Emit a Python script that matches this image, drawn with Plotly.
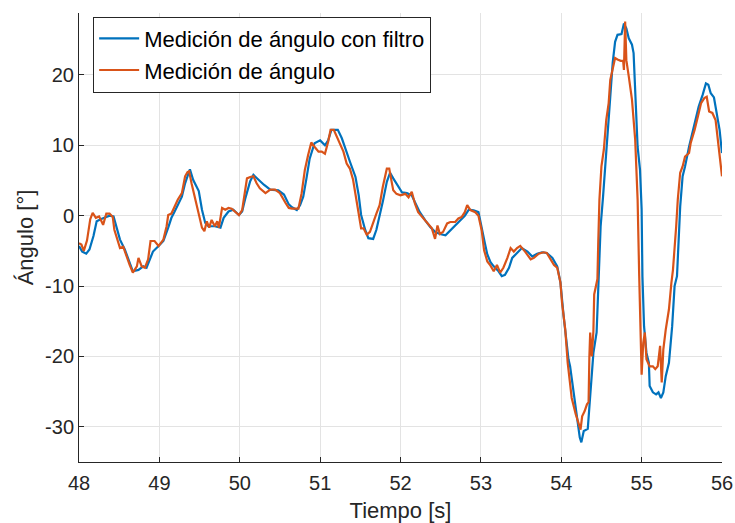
import plotly.graph_objects as go

# Raw measurement (orange)
t_raw = [48.00, 48.03, 48.06, 48.10, 48.14, 48.17, 48.21, 48.25, 48.30, 48.34, 48.38, 48.42, 48.44, 48.47,
         48.51, 48.55, 48.59, 48.63, 48.67, 48.72, 48.74, 48.78, 48.82, 48.86, 48.89, 48.94, 48.99, 49.05,
         49.09, 49.11, 49.15, 49.19, 49.23, 49.28, 49.32, 49.35, 49.37, 49.40, 49.45, 49.49, 49.53, 49.56,
         49.59, 49.62, 49.65, 49.69, 49.72, 49.74, 49.78, 49.82, 49.86, 49.90, 49.94, 49.99, 50.03, 50.06,
         50.09, 50.13, 50.17, 50.21, 50.25, 50.32, 50.38, 50.44, 50.50, 50.57, 50.61, 50.65, 50.69, 50.73,
         50.77, 50.81, 50.85, 50.89, 50.93, 50.98, 51.02, 51.06, 51.10, 51.13, 51.17, 51.20, 51.24, 51.29,
         51.33, 51.37, 51.41, 51.45, 51.49, 51.51, 51.54, 51.58, 51.62, 51.66, 51.70, 51.74, 51.78, 51.83,
         51.86, 51.89, 51.91, 51.95, 52.00, 52.06, 52.10, 52.14, 52.18, 52.22, 52.27, 52.33, 52.39, 52.43,
         52.46, 52.49, 52.53, 52.58, 52.62, 52.68, 52.72, 52.76, 52.80, 52.83, 52.87, 52.93, 52.97, 53.01,
         53.04, 53.08, 53.12, 53.16, 53.20, 53.24, 53.28, 53.33, 53.37, 53.41, 53.45, 53.49, 53.55, 53.62,
         53.66, 53.72, 53.78, 53.82, 53.87, 53.91, 53.95, 53.99, 54.01, 54.05, 54.08, 54.11, 54.13, 54.18,
         54.22, 54.24, 54.26, 54.29, 54.32, 54.34, 54.35, 54.36, 54.38, 54.40, 54.41, 54.44, 54.45, 54.46,
         54.475, 54.50, 54.53, 54.56, 54.59, 54.61, 54.64, 54.67, 54.70, 54.74, 54.77, 54.78, 54.795, 54.81,
         54.84, 54.88, 54.92, 54.95, 54.97, 54.995, 55.00, 55.02, 55.04, 55.06, 55.10, 55.14, 55.17, 55.20,
         55.23, 55.25, 55.27, 55.30, 55.34, 55.37, 55.39, 55.43, 55.45, 55.48, 55.51, 55.54, 55.59, 55.61,
         55.66, 55.70, 55.74, 55.78, 55.81, 55.84, 55.88, 55.92, 55.95, 55.98, 56.00]
y_raw = [-3.9, -4.1, -5.0, -3.5, -0.5, 0.4, -0.3, -0.1, -1.3, 0.3, 0.3, -0.2, -2.0, -3.2,
         -4.6, -4.4, -5.8, -7.0, -8.1, -7.2, -6.0, -7.2, -7.4, -6.2, -3.6, -3.6, -4.3, -3.4,
         -1.5, 0.1, 0.3, 1.3, 2.3, 3.2, 5.6, 6.2, 6.3, 4.6, 2.2, -0.1, -1.7, -2.2,
         -0.8, -1.7, -0.6, -1.5, -0.8, -1.7, 1.1, 0.85, 1.1, 1.0, 0.6, 0.1, 0.8, 3.2,
         5.3, 5.5, 5.6, 4.6, 3.9, 3.2, 3.7, 3.7, 3.2, 1.8, 1.1, 1.0, 1.0, 1.0,
         3.2, 6.5, 8.6, 10.4, 9.8, 9.1, 9.1, 8.8, 10.5, 12.2, 12.2, 11.4, 10.3, 9.1,
         7.4, 6.7, 5.1, 2.5, -0.4, -1.8, -1.8, -2.7, -2.3, -0.85, 0.3, 1.5, 4.1, 6.7,
         6.7, 4.8, 3.6, 3.1, 2.9, 3.1, 2.6, 3.4, 1.7, 0.5, -0.2, -0.9, -1.8, -3.3,
         -1.4, -2.6, -2.3, -1.1, -0.9, -0.9, -0.4, -0.2, 0.5, 1.5, 0.8, 0.5, 0.0, -2.1,
         -4.9, -6.5, -7.1, -7.9, -7.0, -8.1, -7.4, -6.0, -4.6, -5.1, -4.6, -4.3, -5.1, -6.2,
         -6.0, -5.4, -5.2, -5.3, -6.2, -7.0, -7.4, -9.5, -12.4, -16.2, -20.9, -24.2, -25.9, -28.2,
         -29.9, -30.4, -28.5, -27.8, -26.8, -26.5, -20.0, -16.6, -20.0, -16.4, -11.2, -9.3, -9.0, -4.0,
         2.3, 7.0, 9.4, 13.6, 16.0, 19.3, 20.9, 22.4, 22.2, 22.0, 22.0, 20.7, 27.6, 22.1,
         19.8, 16.5, 10.8, 2.3, -8.6, -18.1, -22.6, -18.1, -16.6, -20.4, -21.4, -21.4, -21.8, -21.4,
         -18.5, -23.7, -19.0, -16.2, -13.3, -9.6, -7.7, -1.5, 2.3, 6.1, 7.0, 8.4, 8.9, 10.3,
         12.2, 14.1, 16.0, 16.7, 16.9, 14.8, 14.6, 13.6, 10.3, 7.5, 5.6]

# Filtered measurement (blue)
t_filt = [48.00, 48.04, 48.09, 48.13, 48.18, 48.22, 48.27, 48.32, 48.38, 48.43, 48.47, 48.51, 48.57, 48.63,
          48.67, 48.74, 48.80, 48.84, 48.88, 48.92, 48.99, 49.05, 49.11, 49.15, 49.19, 49.23, 49.28, 49.32,
          49.35, 49.38, 49.42, 49.49, 49.53, 49.57, 49.61, 49.69, 49.76, 49.80, 49.86, 49.92, 49.99, 50.03,
          50.07, 50.13, 50.17, 50.23, 50.30, 50.38, 50.48, 50.55, 50.61, 50.65, 50.71, 50.75, 50.79, 50.83,
          50.87, 50.93, 51.00, 51.06, 51.10, 51.14, 51.22, 51.27, 51.31, 51.37, 51.44, 51.48, 51.51, 51.56,
          51.60, 51.66, 51.70, 51.74, 51.78, 51.83, 51.87, 51.91, 51.97, 52.02, 52.08, 52.14, 52.18, 52.24,
          52.31, 52.37, 52.43, 52.49, 52.56, 52.62, 52.68, 52.74, 52.80, 52.85, 52.91, 52.97, 53.01, 53.05,
          53.08, 53.12, 53.16, 53.22, 53.26, 53.30, 53.35, 53.39, 53.45, 53.51, 53.58, 53.64, 53.70, 53.76,
          53.82, 53.89, 53.95, 53.99, 54.03, 54.06, 54.09, 54.11, 54.16, 54.20, 54.23, 54.25, 54.28, 54.33,
          54.36, 54.40, 54.44, 54.46, 54.49, 54.52, 54.55, 54.58, 54.61, 54.64, 54.67, 54.70, 54.75, 54.78,
          54.81, 54.84, 54.88, 54.90, 54.92, 54.95, 54.98, 55.00, 55.01, 55.03, 55.06, 55.09, 55.10, 55.14,
          55.18, 55.21, 55.24, 55.27, 55.30, 55.34, 55.38, 55.41, 55.44, 55.46, 55.48, 55.51, 55.54, 55.59,
          55.63, 55.67, 55.71, 55.76, 55.80, 55.83, 55.86, 55.90, 55.93, 55.97, 56.00]
y_filt = [-4.3, -5.1, -5.4, -4.8, -2.9, -0.8, -0.5, -0.3, 0.0, -0.1, -1.7, -3.4, -4.8, -6.5,
          -7.9, -7.7, -7.2, -7.4, -6.2, -5.1, -4.3, -3.6, -1.7, -0.3, 0.6, 1.6, 2.7, 4.6,
          5.6, 6.6, 5.1, 3.5, 0.85, -1.0, -1.5, -1.5, -1.7, -0.3, 0.6, 0.85, 0.1, 0.6,
          2.5, 4.9, 5.8, 5.1, 4.4, 3.7, 3.6, 3.0, 1.6, 1.2, 0.8, 1.5, 2.7, 5.3,
          8.1, 10.3, 10.7, 10.0, 10.7, 12.2, 12.2, 11.0, 9.6, 7.7, 5.5, 2.9, 0.1, -2.0,
          -3.2, -3.3, -2.0, -0.1, 2.0, 4.8, 6.1, 5.3, 4.3, 3.3, 3.2, 2.9, 1.9, 0.5,
          -0.7, -1.6, -2.3, -2.6, -2.8, -2.1, -1.4, -0.8, 0.0, 0.85, 0.75, 0.5, -1.5, -3.9,
          -5.5, -6.6, -7.2, -7.9, -8.6, -8.4, -7.4, -6.0, -5.3, -4.6, -5.1, -5.8, -5.4, -5.2,
          -5.3, -6.0, -7.2, -9.5, -14.3, -17.6, -20.4, -21.4, -25.6, -28.9, -31.5, -32.2, -30.6, -30.3,
          -25.6, -19.5, -16.6, -11.0, -1.5, 2.7, 7.0, 11.7, 16.9, 21.7, 24.7, 25.7, 25.8, 27.3,
          26.6, 25.2, 24.3, 23.1, 17.4, 9.8, 6.5, 0.9, -8.6, -15.7, -19.5, -20.9, -24.2, -25.1,
          -25.4, -25.1, -25.9, -25.1, -22.8, -20.9, -15.7, -10.0, -8.6, -3.9, 1.3, 5.6, 7.0, 9.8,
          11.7, 13.6, 15.5, 17.2, 18.8, 18.6, 17.4, 16.8, 15.0, 12.2, 8.9]

x_ticks = [48, 49, 50, 51, 52, 53, 54, 55, 56]
y_ticks = [-30, -20, -10, 0, 10, 20]

FONT = "Liberation Sans, Arial, sans-serif"
TXT = "#262626"

fig = go.Figure()
fig.add_trace(go.Scatter(x=t_filt, y=y_filt, mode="lines", name="Medición de ángulo con filtro",
                         line=dict(color="#0072BD", width=2.2)))
fig.add_trace(go.Scatter(x=t_raw, y=y_raw, mode="lines", name="Medición de ángulo",
                         line=dict(color="#D95319", width=2.2)))

fig.update_layout(
    width=735, height=523,
    margin=dict(l=79, r=13, t=13, b=61, autoexpand=False),
    paper_bgcolor="white", plot_bgcolor="white",
    font=dict(family=FONT, color=TXT),
    showlegend=True,
    legend=dict(x=0.022, y=0.992, xanchor="left", yanchor="top",
                bgcolor="white", bordercolor="#262626", borderwidth=1,
                font=dict(size=22, color="#000000"), tracegroupgap=0,
                itemwidth=40),
    xaxis=dict(range=[48, 56], tickvals=x_ticks, ticktext=[str(v) for v in x_ticks],
               showgrid=True, gridcolor="#e3e3e3", gridwidth=1,
               showline=True, linecolor=TXT, linewidth=1, mirror=False,
               ticks="inside", ticklen=5, tickcolor=TXT, automargin=False,
               ticklabelstandoff=3,
               tickfont=dict(size=20, color=TXT), zeroline=False,
               title=dict(text="Tiempo [s]", font=dict(size=22, color=TXT), standoff=12)),
    yaxis=dict(range=[-35, 28.8], tickvals=y_ticks, ticktext=[str(v) for v in y_ticks],
               showgrid=True, gridcolor="#e3e3e3", gridwidth=1,
               showline=True, linecolor=TXT, linewidth=1, mirror=False,
               ticks="inside", ticklen=5, tickcolor=TXT, automargin=False,
               tickfont=dict(size=20, color=TXT), zeroline=False,
               title=dict(text="Ángulo [°]", font=dict(size=22, color=TXT), standoff=5)),
)

fig.write_html("out.html", config={"displayModeBar": False},
               post_script="document.body.style.margin='0';document.body.style.padding='0';")
